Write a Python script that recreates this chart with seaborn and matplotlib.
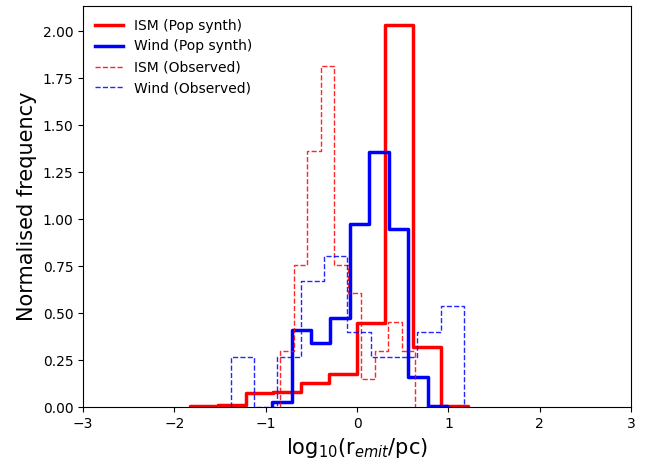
import numpy as np
import pandas as pd
import seaborn as sns
import matplotlib
matplotlib.use("Agg")
import matplotlib.pyplot as plt

# bin edges (log10 r_emit / pc) and normalised heights
ism_pop_edges = np.linspace(-1.83, 1.22, 11)
ism_pop_heights = [0.005, 0.01, 0.073, 0.081, 0.126, 0.175, 0.448, 2.035, 0.317, 0.005]

wind_pop_edges = np.linspace(-0.93, 0.985, 10)
wind_pop_heights = [0.028, 0.41, 0.34, 0.472, 0.977, 1.358, 0.95, 0.158, 0.004]

ism_obs_edges = np.linspace(-0.843, 0.635, 11)
ism_obs_heights = [0.30, 0.755, 1.363, 1.815, 0.755, 0.605, 0.15, 0.30, 0.454, 0.30]

wind_obs_edges = np.linspace(-1.383, 1.172, 11)
wind_obs_heights = [0.268, 0.0, 0.268, 0.672, 0.805, 0.40, 0.268, 0.268, 0.40, 0.539]


def step_hist(ax, edges, heights, **kw):
    """Draw a step histogram with seaborn, closing it down to zero at both ends."""
    edges = np.asarray(edges)
    df = pd.DataFrame({
        "x": 0.5 * (edges[:-1] + edges[1:]),
        "w": heights,
    })
    # zero-width bins at each end make the outline drop to the baseline
    bins = list(np.concatenate([[edges[0]], edges, [edges[-1]]]))
    sns.histplot(
        data=df,
        x="x",
        weights="w",
        bins=bins,
        element="step",
        fill=False,
        ax=ax,
        **kw,
    )


def main():
    fig = plt.figure(figsize=(6.56, 4.62), dpi=100)
    ax = fig.add_axes([0.1265, 0.119, 0.8355, 0.868])

    step_hist(ax, ism_pop_edges, ism_pop_heights, color="red", lw=2.5,
              label="ISM (Pop synth)")
    step_hist(ax, wind_pop_edges, wind_pop_heights, color="blue", lw=2.5,
              label="Wind (Pop synth)")
    step_hist(ax, ism_obs_edges, ism_obs_heights, color="red", lw=1,
              ls="--", alpha=0.85, label="ISM (Observed)")
    step_hist(ax, wind_obs_edges, wind_obs_heights, color="blue", lw=1,
              ls="--", alpha=0.85, label="Wind (Observed)")

    ax.set_xlim(-3, 3)
    ax.set_ylim(0, 2.135)
    ax.set_yticks(np.arange(0, 2.01, 0.25))
    ax.yaxis.set_major_formatter(lambda y, _: f"{y:.2f}")
    ax.tick_params(labelsize=10)
    ax.set_xlabel("log$_{10}$(r$_{emit}$/pc)", fontsize=15)
    ax.set_ylabel("Normalised frequency", fontsize=15)
    ax.legend(loc="upper left", frameon=False, fontsize=10)

    fig.savefig("out.png", dpi=100)


if __name__ == "__main__":
    main()
